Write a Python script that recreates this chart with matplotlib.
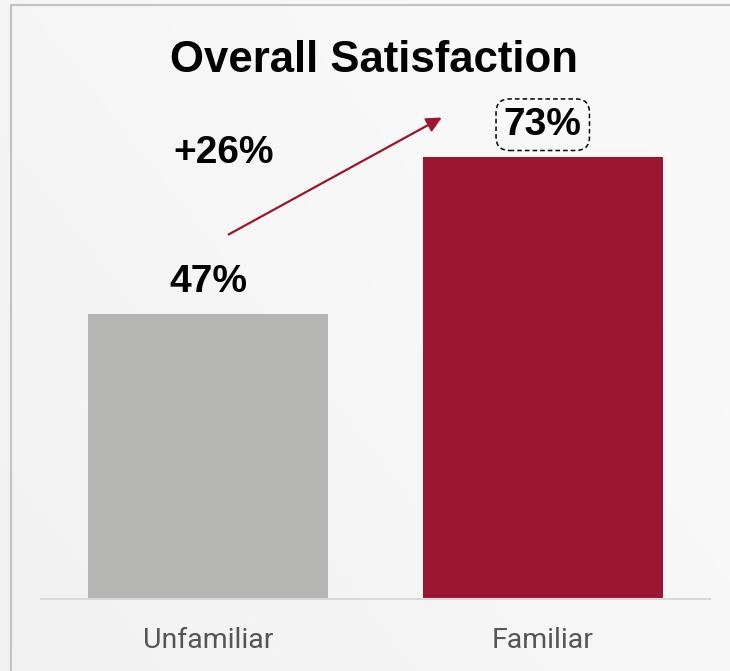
import matplotlib
matplotlib.use("Agg")
import matplotlib.pyplot as plt
import numpy as np
from matplotlib import font_manager

categories = ["Unfamiliar", "Familiar"]
values = [47, 73]
bar_colors = ["#b5b6b4", "#9b1631"]
value_labels = ["47%", "73%"]
change_label = "+26%"
title = "Overall Satisfaction"

names = {f.name for f in font_manager.fontManager.ttflist}
title_font = "Liberation Sans Narrow" if "Liberation Sans Narrow" in names else "Liberation Sans"
title_size = 36 if title_font == "Liberation Sans Narrow" else 31.5

fig = plt.figure(figsize=(7.3, 6.71), dpi=100)

# soft gradient background
bg = fig.add_axes([0, 0, 1, 1], zorder=-10)
yy, xx = np.mgrid[0:1:200j, 0:1:200j]
shade = 0.948 + 0.032 * np.clip(0.7 * xx + 0.5 * yy, 0, 1)
bg.imshow(np.dstack([shade] * 3), extent=[0, 1, 0, 1], origin="lower", aspect="auto")
bg.set_axis_off()
# frame lines (top and left)
fig.add_artist(plt.Line2D([11 / 730, 1], [1 - 4.5 / 671] * 2, color="#c4c4c4", lw=1.6))
fig.add_artist(plt.Line2D([11 / 730] * 2, [0, 1 - 4.5 / 671], color="#c4c4c4", lw=1.6))

W, H = 730, 671
ax = fig.add_axes([41 / W, (H - 599) / H, (710 - 41) / W, 545 / H])
ax.patch.set_alpha(0)
x = np.arange(len(categories))
ax.bar(x, values, width=0.7175, color=bar_colors, zorder=2)
ax.set_xlim(-0.5, 1.5)
ax.set_ylim(0, 90)
for s in ["top", "right", "left"]:
    ax.spines[s].set_visible(False)
ax.spines["bottom"].set_color("#d9d9d9")
ax.spines["bottom"].set_linewidth(1.5)
ax.set_yticks([])
ax.set_xticks(x)
ax.set_xticklabels(categories, fontsize=20.5, color="#555555",
                   fontfamily="Roboto", fontweight="normal")
ax.tick_params(axis="x", length=0, pad=20)

for i, (v, lab) in enumerate(zip(values, value_labels)):
    kw = {}
    if i == 1:
        kw["bbox"] = dict(boxstyle="round,pad=0.2,rounding_size=0.35", fc="none",
                          ec="black", ls=(0, (3, 2)), lw=1.1)
    ax.annotate(lab, (x[i], v), xytext=(0, 16), textcoords="offset points",
                ha="center", va="baseline", fontsize=28, fontweight="bold",
                fontfamily="Liberation Sans", color="black", **kw)

ax.text(0.046, 72, change_label, ha="center", va="baseline", fontsize=28,
        fontweight="bold", fontfamily="Liberation Sans", color="black")
ax.annotate("", xy=(0.698, 79.5), xytext=(0.061, 60.2),
            arrowprops=dict(arrowstyle="-|>,head_length=0.9,head_width=0.45",
                            color="#9b1631", lw=1.6, shrinkA=0, shrinkB=0))

fig.text(374 / W, 1 - 72 / H, title, ha="center", va="baseline", fontsize=title_size,
         fontweight="bold", fontfamily=title_font, color="black")

fig.savefig("out.png", dpi=100)
